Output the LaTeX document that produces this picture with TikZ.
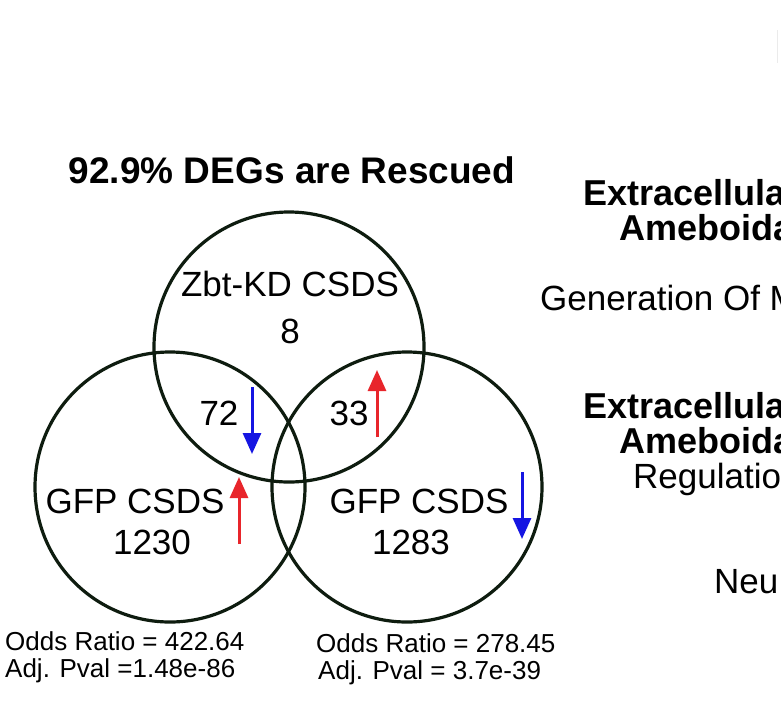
\documentclass[tikz,border=0pt]{standalone}
\usepackage{fontspec}
\setmainfont{Liberation Sans}
\usetikzlibrary{arrows.meta}
\definecolor{ringc}{HTML}{0E1C0F}
\definecolor{upred}{HTML}{E8252B}
\definecolor{downblue}{HTML}{1515E2}
\begin{document}
\begin{tikzpicture}[x=1pt,y=-1pt,
  ring/.style={draw=ringc, line width=3.2pt},
  lbl/.style={font=\fontsize{35}{40}\selectfont, inner sep=0, anchor=base},
  stat/.style={font=\fontsize{26}{30}\selectfont, inner sep=0, anchor=base west},
  ttl/.style={font=\bfseries\fontsize{37}{42}\selectfont, inner sep=0, anchor=base},
  rbold/.style={font=\bfseries\fontsize{36}{40}\selectfont, inner sep=0, anchor=base west},
  rreg/.style={font=\fontsize{35}{40}\selectfont, inner sep=0, anchor=base west},
  uparr/.style={draw=upred, line width=3pt, -{Triangle[length=21pt,width=18pt]}},
  downarr/.style={draw=downblue, line width=3pt, -{Triangle[length=21pt,width=18pt]}}]
\useasboundingbox (0,0) rectangle (781,702);
\clip (0,0) rectangle (781,702);
\fill[white] (0,0) rectangle (781,702);

% faint mark top right
\draw[black!8, line width=1pt] (777,30) -- (777,63);

% Venn circles
\draw[ring] (289,347) circle (135);
\draw[ring] (170,487) circle (135);
\draw[ring] (407,487) circle (135);

% title
\node[ttl] (title) at (292,183) {92.9\% DEGs are Rescued};

% labels
\node[lbl] (zbt) at (290,296) {Zbt-KD CSDS};
\node[lbl] (zbtn) at (290,343) {8};
\node[lbl] (n72) at (219,425) {72};
\node[lbl] (n33) at (349,425) {33};
\node[lbl] (gfpl) at (135,513) {GFP CSDS};
\node[lbl] (gfpln) at (152,554) {1230};
\node[lbl] (gfpr) at (419,513) {GFP CSDS};
\node[lbl] (gfprn) at (411,554) {1283};

% arrows
\coordinate (d1s) at (252,387); \coordinate (d1e) at (252,454);
\draw[downarr] (d1s) -- (d1e);
\coordinate (u1s) at (377,437); \coordinate (u1e) at (377,370);
\draw[uparr] (u1s) -- (u1e);
\coordinate (u2s) at (239,544); \coordinate (u2e) at (239,477);
\draw[uparr] (u2s) -- (u2e);
\coordinate (d2s) at (522,472); \coordinate (d2e) at (522,539);
\draw[downarr] (d2s) -- (d2e);

% statistics
\node[stat] (orl) at (5,650) {Odds Ratio = 422.64};
\node[stat] (pvl) at (5,677) {Adj. Pval =1.48e-86};
\node[stat] (orr) at (316,652) {Odds Ratio = 278.45};
\node[stat] (pvr) at (318,679) {Adj. Pval = 3.7e-39};

% right-hand (cropped) terms
\node[rbold] (t1a) at (583,205) {Extracellula};
\node[rbold] (t1b) at (619,240) {Ameboida};
\node[rreg] (t2) at (540,310) {Generation Of M};
\node[rbold] (t3a) at (583,418) {Extracellula};
\node[rbold] (t3b) at (619,453) {Ameboida};
\node[rreg] (t3c) at (633,488) {Regulatio};
\node[rreg] (t4) at (714,593) {Neu};
\end{tikzpicture}
\end{document}
